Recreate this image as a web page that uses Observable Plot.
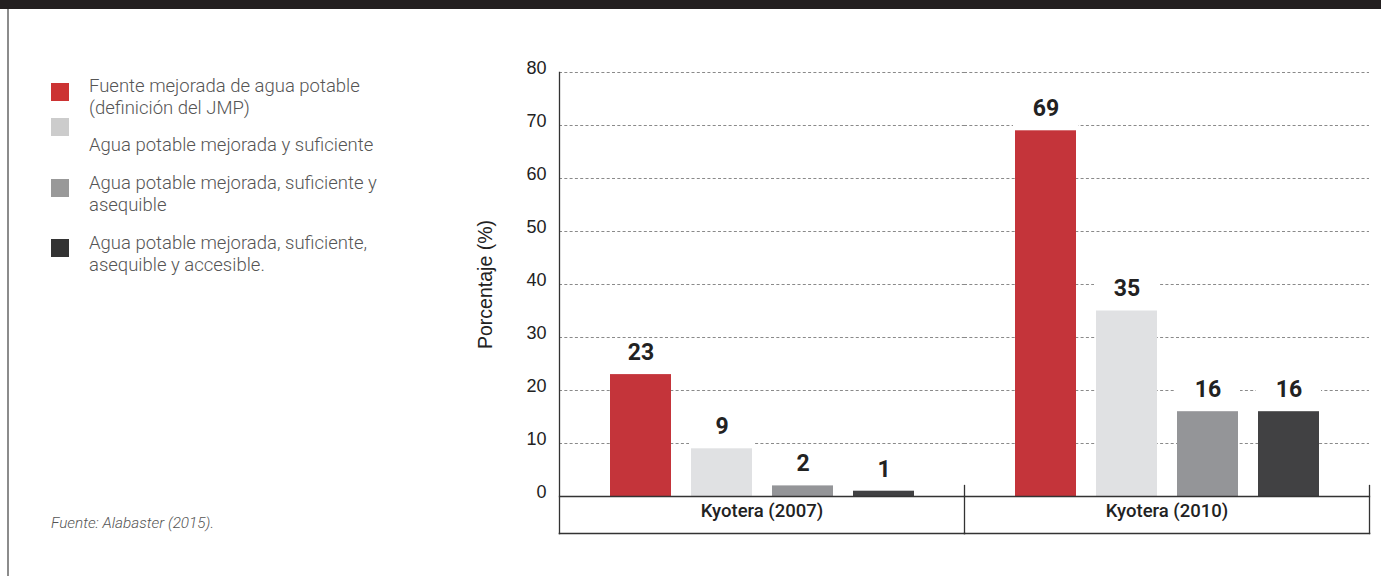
<!DOCTYPE html>
<html><head><meta charset="utf-8">
<script src="https://cdn.jsdelivr.net/npm/d3@7"></script>
<script src="https://cdn.jsdelivr.net/npm/@observablehq/plot@0.6"></script>
<style>
body{margin:0;background:#fff;}
#wrap{position:relative;width:1381px;height:576px;overflow:hidden;background:#fff;}
#chart{position:absolute;left:0;top:0;}
#topbar{position:absolute;left:0;top:0;width:1381px;height:9px;background:#231f20;}
#leftline{position:absolute;left:7px;top:9px;width:2px;height:567px;background:#8c8c8c;}
.sw{position:absolute;left:51px;width:18px;height:18px;}
.lt{position:absolute;left:89px;font-family:Roboto,sans-serif;font-weight:300;font-size:18.5px;line-height:22px;color:#555;white-space:nowrap;}
#caption{position:absolute;left:51px;top:515px;font-family:Roboto,sans-serif;font-style:italic;font-weight:300;font-size:15.3px;line-height:16px;color:#555;}
</style></head>
<body><div id="wrap"><div id="chart"></div><div id="topbar"></div><div id="leftline"></div><div id="legend"></div><div id="caption">Fuente: Alabaster (2015).</div></div>
<script>
const groups = ["Kyotera (2007)", "Kyotera (2010)"];
const series = [
  "Fuente mejorada de agua potable (definición del JMP)",
  "Agua potable mejorada y suficiente",
  "Agua potable mejorada, suficiente y asequible",
  "Agua potable mejorada, suficiente, asequible y accesible."
];
const values2007 = [23, 9, 2, 1];
const values2010 = [69, 35, 16, 16];
const yTicks = [0, 10, 20, 30, 40, 50, 60, 70, 80];
const barColors = ["#c4343a", "#e0e1e3", "#949598", "#414143"];
const legendColors = ["#cc3333", "#cccccc", "#999999", "#333333"];
const legendLines = [
  ["Fuente mejorada de agua potable", "(definición del JMP)"],
  ["Agua potable mejorada y suficiente"],
  ["Agua potable mejorada, suficiente y", "asequible"],
  ["Agua potable mejorada, suficiente,", "asequible y accesible."]
];
const yLabel = "Porcentaje (%)";

const groupValues = [values2007, values2010];
const data = groups.flatMap((g, gi) => series.map((s, si) => ({group: g, serie: s, value: groupValues[gi][si]})));

const ink = "#333";
const chart = Plot.plot({
  width: 1381, height: 576,
  marginTop: 72, marginBottom: 80, marginLeft: 559, marginRight: 12,
  style: {fontFamily: "'Liberation Sans', Arial, sans-serif", fontSize: "18px", color: "#222", background: "transparent", overflow: "visible"},
  fx: {domain: groups, padding: 0, label: null},
  x: {domain: series, paddingInner: 20 / 81, paddingOuter: 0.623, axis: null},
  y: {domain: [0, 80], axis: null},
  color: {domain: series, range: barColors},
  marks: [
    Plot.gridY(yTicks.filter(d => d > 0), {stroke: "#8a8a8a", strokeOpacity: 1, strokeDasharray: "3 2.3", strokeWidth: 1}),
    Plot.barY(data, {fx: "group", x: "serie", y1: "value", y2: "value", fill: "white", insetTop: -32, insetLeft: -2, insetRight: -2}),
    Plot.barY(data, {fx: "group", x: "serie", y: "value", fill: "serie"}),
    Plot.text(data, {fx: "group", x: "serie", y: "value", text: d => String(d.value), dy: -22, fontFamily: "Roboto, sans-serif", fontWeight: "bold", fontSize: 23, fill: "#222"}),
    Plot.axisY({ticks: yTicks, tickSize: 0, tickPadding: 13, dy: -4, label: yLabel, labelAnchor: "center", labelOffset: 81, labelArrow: "none", fontSize: 18, fill: "#222"}),
    Plot.axisFx({anchor: "bottom", tickSize: 0, tickPadding: 7, fontFamily: "Roboto, sans-serif", fontWeight: 500, fontSize: 18.5, fill: "#222", label: null}),
    Plot.frame({anchor: "bottom", stroke: ink, strokeWidth: 1.3}),
    Plot.frame({anchor: "bottom", insetBottom: -37, stroke: ink, strokeWidth: 1.6}),
    Plot.frame({anchor: "right", insetTop: 413, insetBottom: -37, stroke: ink, strokeWidth: 1.3}),
    Plot.frame({anchor: "left", insetBottom: -37, facetAnchor: "left", stroke: ink, strokeWidth: 1.3})
  ]
});
// the axis label is larger than the tick labels
d3.select(chart).selectAll("g[aria-label='y-axis label'] text").attr("font-size", 19.5);
document.getElementById("chart").appendChild(chart);

// HTML legend
const swatchTops = [83, 118, 179, 239];
const textTops = [75, 134, 172, 232];
const legend = document.getElementById("legend");
series.forEach((s, i) => {
  const sw = document.createElement("div");
  sw.className = "sw";
  sw.style.top = swatchTops[i] + "px";
  sw.style.background = legendColors[i];
  legend.appendChild(sw);
  const t = document.createElement("div");
  t.className = "lt";
  t.style.top = textTops[i] + "px";
  t.innerHTML = legendLines[i].join("<br>");
  legend.appendChild(t);
});
</script>
</body></html>
